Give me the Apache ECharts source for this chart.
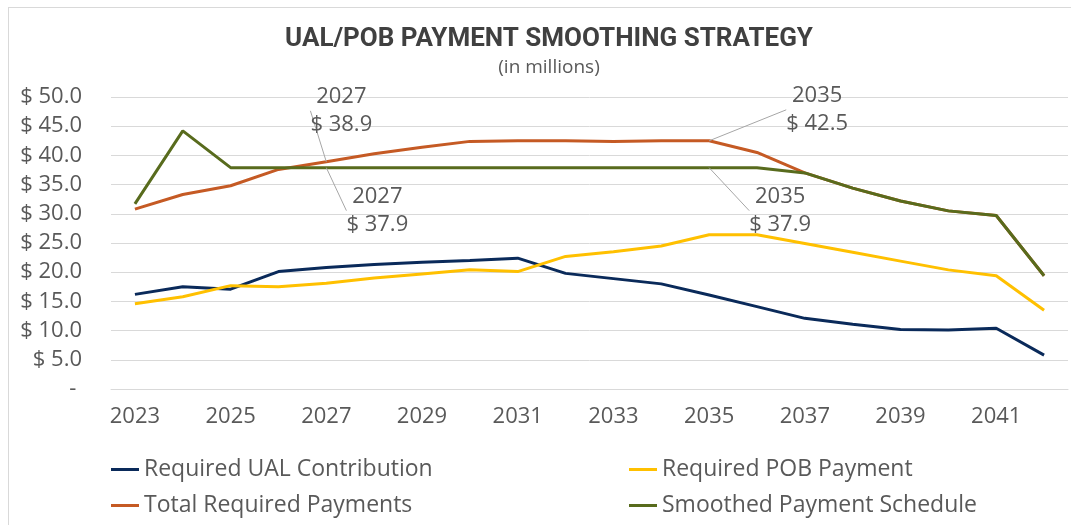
<!DOCTYPE html>
<html>
<head>
<meta charset="utf-8">
<title>UAL/POB Payment Smoothing Strategy</title>
<script src="https://cdn.jsdelivr.net/npm/echarts@6/dist/echarts.min.js"></script>
<style>
  html, body { margin: 0; padding: 0; background: #fff; overflow: hidden; }
  .frame { position: absolute; left: 8px; top: 7px; width: 1200px; height: 700px; border: 1px solid #d9d9d9; }
  #main { position: absolute; left: 0; top: 0; width: 1071px; height: 525px; }
</style>
</head>
<body>
<div class="frame"></div>
<div id="main"></div>
<script>
// years on the x axis
var years = ['2023','2024','2025','2026','2027','2028','2029','2030','2031','2032',
             '2033','2034','2035','2036','2037','2038','2039','2040','2041','2042'];

// values in $ millions
var ualContribution = [16.2, 17.5, 17.1, 20.1, 20.8, 21.3, 21.7, 22.0, 22.4, 19.8,
                       18.9, 18.0, 16.1, 14.1, 12.1, 11.1, 10.2, 10.1, 10.4, 5.8];
var pobPayment      = [14.6, 15.8, 17.7, 17.5, 18.1, 19.0, 19.7, 20.4, 20.1, 22.7,
                       23.5, 24.5, 26.4, 26.4, 24.9, 23.4, 21.9, 20.4, 19.4, 13.5];
var totalPayments   = [30.8, 33.3, 34.8, 37.6, 38.9, 40.3, 41.4, 42.4, 42.5, 42.5,
                       42.4, 42.5, 42.5, 40.5, 37.0, 34.4, 32.2, 30.5, 29.7, 19.4];
var smoothedSchedule = [31.7, 44.2, 37.9, 37.9, 37.9, 37.9, 37.9, 37.9, 37.9, 37.9,
                        37.9, 37.9, 37.9, 37.9, 37.0, 34.4, 32.2, 30.5, 29.7, 19.4];

// y axis ticks
var yMin = 0, yMax = 50, yStep = 5;

// which points carry a data label
var annotated = {
    'Total Required Payments': ['2027', '2035'],
    'Smoothed Payment Schedule': ['2027', '2035']
};

var seriesNames = ['Required UAL Contribution', 'Required POB Payment', 'Total Required Payments', 'Smoothed Payment Schedule'];
var seriesValues = [ualContribution, pobPayment, totalPayments, smoothedSchedule];
var seriesColors = ['#0a2a5a', '#ffc000', '#c55a24', '#586b1d'];

// label offsets (from the default 'top' spot) so they sit like the original
var labelShift = {
    'Total Required Payments':   { '2027': [15, -18], '2035': [108, 2] },
    'Smoothed Payment Schedule': { '2027': [51, 76],  '2035': [71, 76] }
};

var textGrey = '#595959';
var font = '"Open Sans", "DejaVu Sans", sans-serif';

function buildSeries(idx) {
    var name = seriesNames[idx];
    var marks = annotated[name] || [];
    var data = seriesValues[idx].map(function (v, i) {
        if (marks.indexOf(years[i]) >= 0) {
            return { value: v, label: { show: true } };
        }
        return v;
    });
    return {
        name: name,
        type: 'line',
        data: data,
        symbol: 'circle',
        symbolSize: 0,
        showSymbol: true,
        showAllSymbol: true,
        lineStyle: { width: 3, color: seriesColors[idx] },
        itemStyle: { color: seriesColors[idx] },
        emphasis: { disabled: true },
        label: {
            show: false,
            position: 'top',
            distance: 5,
            color: textGrey,
            fontFamily: font,
            fontSize: 22,
            lineHeight: 28,
            align: 'center',
            formatter: function (p) {
                return p.name + '\n$ ' + Number(p.value).toFixed(1);
            }
        },
        labelLine: {
            show: true,
            length2: 7,
            lineStyle: { color: '#a6a6a6', width: 1 }
        },
        labelLayout: function (p) {
            var s = (labelShift[name] || {})[years[p.dataIndex]];
            if (!s) return {};
            return { dx: s[0], dy: s[1] };
        }
    };
}

var myChart = echarts.init(document.getElementById('main'));
var option = {
    animation: false,
    color: seriesColors,
    title: {
        text: 'UAL/POB PAYMENT SMOOTHING STRATEGY',
        subtext: '(in millions)',
        left: 544,
        textAlign: 'center',
        top: 21,
        itemGap: 6,
        textStyle: {
            fontFamily: 'Roboto, "Open Sans", sans-serif',
            fontWeight: 'bold',
            fontSize: 26,
            color: '#404040'
        },
        subtextStyle: {
            fontFamily: font,
            fontSize: 19,
            color: textGrey
        }
    },
    legend: [
        {
            data: [seriesNames[0], seriesNames[2]],
            orient: 'vertical',
            left: 106,
            top: 453,
            icon: 'rect',
            itemWidth: 28,
            itemHeight: 3,
            itemGap: 13,
            selectedMode: false,
            textStyle: { fontFamily: font, fontSize: 23, color: textGrey }
        },
        {
            data: [seriesNames[1], seriesNames[3]],
            orient: 'vertical',
            left: 624,
            top: 453,
            icon: 'rect',
            itemWidth: 28,
            itemHeight: 3,
            itemGap: 13,
            selectedMode: false,
            textStyle: { fontFamily: font, fontSize: 23, color: textGrey }
        }
    ],
    grid: {
        left: 111,
        right: 3,
        top: 97,
        bottom: 136
    },
    xAxis: {
        type: 'category',
        data: years,
        boundaryGap: true,
        axisLine: { show: true, lineStyle: { color: '#d9d9d9', width: 1 } },
        axisTick: { show: false },
        axisLabel: {
            interval: 1,
            margin: 17,
            color: textGrey,
            fontFamily: font,
            fontSize: 22
        }
    },
    yAxis: {
        type: 'value',
        min: yMin,
        max: yMax,
        interval: yStep,
        axisLine: { show: false },
        axisTick: { show: false },
        splitLine: { lineStyle: { color: '#d9d9d9', width: 1 } },
        axisLabel: {
            margin: 29,
            color: textGrey,
            fontFamily: font,
            fontSize: 22,
            formatter: function (v) {
                return v === 0 ? '- ' : '$ ' + v.toFixed(1);
            }
        }
    },
    series: [0, 1, 2, 3].map(buildSeries)
};
myChart.setOption(option, true);
window.onresize = myChart.resize;
</script>
</body>
</html>
